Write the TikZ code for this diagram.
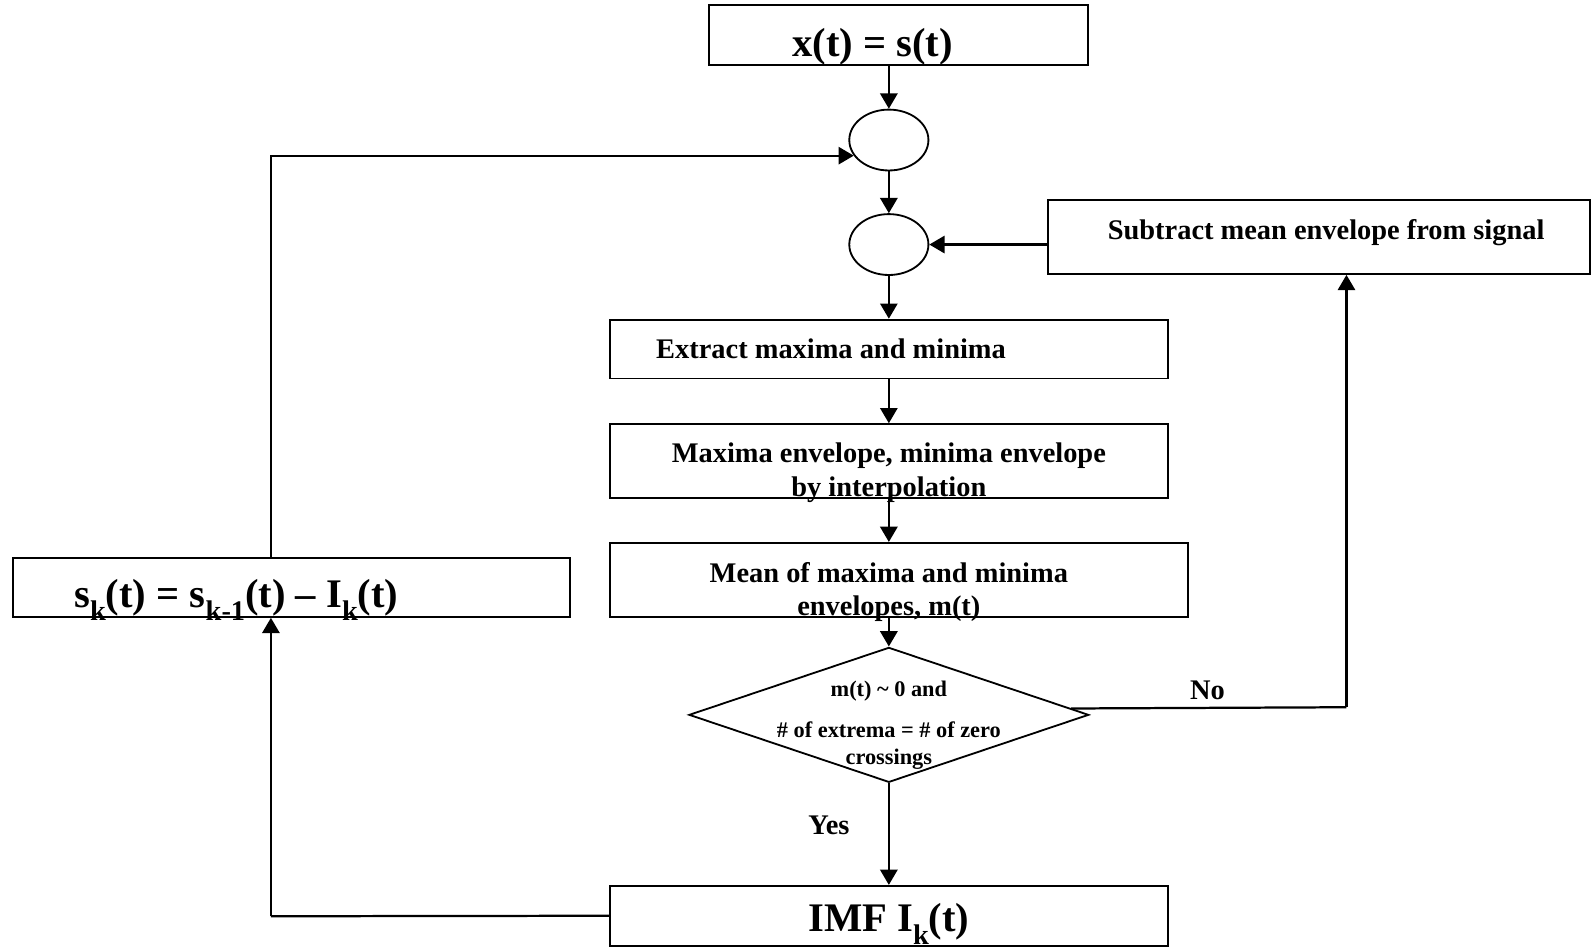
\documentclass[tikz,border=0pt]{standalone}
\usepackage{fontspec}
\setmainfont{Liberation Serif}
\usetikzlibrary{shapes.geometric,arrows.meta}
\newcommand\lowsub[1]{\raisebox{-0.32em}{\fontsize{14}{14}\selectfont #1}}
\begin{document}
\begin{tikzpicture}[x=0.5pt,y=-0.5pt,
  box/.style={draw,line width=0.9pt,inner sep=0pt,rectangle},
  oval/.style={draw,line width=0.9pt,ellipse,inner sep=0pt,minimum width=39pt,minimum height=30pt},
  arr/.style={line width=1.1pt,-{Triangle[length=7.5pt,width=8.5pt]}},
  ln/.style={line width=1.1pt},
  txt/.style={anchor=base,inner sep=0pt},
  big/.style={txt,font=\fontsize{20}{24}\selectfont\bfseries},
  mid/.style={txt,font=\fontsize{14}{17}\selectfont\bfseries},
  small/.style={txt,font=\fontsize{11}{13}\selectfont\bfseries},
]
\useasboundingbox (0,0) rectangle (1568,934);

% boxes
\node[box,minimum width=186.5pt,minimum height=29.5pt] (top) at (885.5,34.5) {};
\node[oval] (e1) at (876,138) {};
\node[oval] (e2) at (876,241) {};
\node[box,minimum width=267pt,minimum height=36.5pt] (sub) at (1300,233.5) {};
\node[box,minimum width=275pt,minimum height=29pt] (ext) at (876,344) {};
\node[box,minimum width=275pt,minimum height=36.5pt] (max) at (876,454.5) {};
\node[box,minimum width=285pt,minimum height=36.5pt] (mean) at (886,571.5) {};
\node[draw,line width=0.9pt,diamond,inner sep=0pt,minimum width=197pt,minimum height=66.5pt] (d) at (876,704.5) {};
\node[box,minimum width=275pt,minimum height=29.5pt] (imf) at (876,902.5) {};
\node[box,minimum width=274.5pt,minimum height=29pt] (sk) at (287.5,579) {};

% texts
\node[big] (ttop) at (860,56) {x(t) = s(t)};
\node[mid] (tsub) at (1307,236) {Subtract mean envelope from signal};
\node[mid] (text) at (819,353) {Extract maxima and minima};
\node[mid] (tmax1) at (876,456) {Maxima envelope, minima envelope};
\node[mid] (tmax2) at (876,489) {by interpolation};
\node[mid] (tmean1) at (876,574) {Mean of maxima and minima};
\node[mid] (tmean2) at (876,607) {envelopes, m(t)};
\node[small] (td1) at (876,686) {m(t) \textasciitilde{} 0 and};
\node[small] (td2) at (876,727) {\# of extrema = \# of zero};
\node[small] (td3) at (876,753) {crossings};
\node[mid] (tno) at (1190,689) {No};
\node[mid] (tyes) at (817,822) {Yes};
\node[big] (timf) at (876,918) {IMF I\lowsub{k}(t)};
\node[big] (tsk) at (233,599) {s\lowsub{k}(t) = s\lowsub{k-1}(t) – I\lowsub{k}(t)};

% coordinates for bends
\coordinate (noturn) at (1327,697);
\coordinate (loopb) at (267,903);

% connectors
\draw[arr] (e1.north |- top.south) -- (e1.north);
\draw[arr] (e1.south) -- (e2.north);
\draw[arr] (e2.south) -- (ext.north);
\draw[arr] (sub.west |- e2.east) -- (e2.east);
\draw[arr] (ext.south) -- (max.north);
\draw[arr] (max.south) -- (max.south |- mean.north);
\draw[arr] (d.north |- mean.south) -- (d.north);
\draw[ln] (d.2) -- (noturn);
\draw[arr] (noturn) -- (noturn |- sub.south);
\draw[arr] (d.south) -- (imf.north);
\draw[ln] (imf.west) -- (loopb);
\draw[arr] (loopb) -- (loopb |- sk.south);
\draw[arr] (loopb |- sk.north) |- (e1.204);
\end{tikzpicture}
\end{document}
